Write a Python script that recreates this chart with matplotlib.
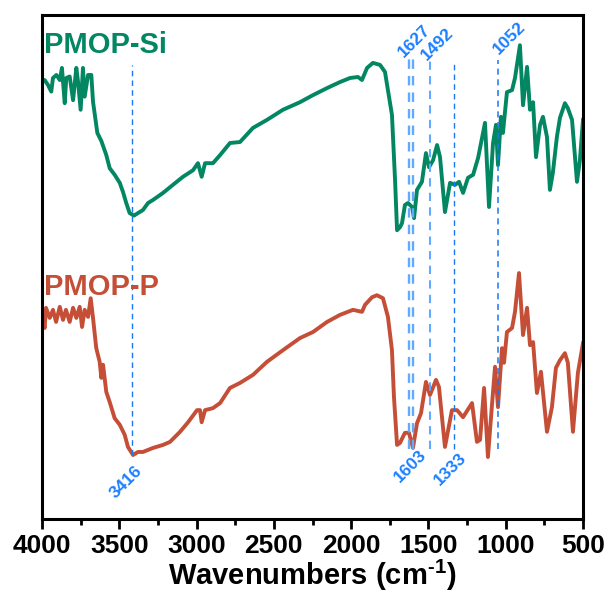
import matplotlib
matplotlib.use('Agg')
import matplotlib.pyplot as plt

plt.rcParams['font.family'] = ['Liberation Sans', 'DejaVu Sans']
plt.rcParams['mathtext.fontset'] = 'custom'
plt.rcParams['mathtext.rm'] = 'Liberation Sans:bold'
plt.rcParams['mathtext.bf'] = 'Liberation Sans:bold'
plt.rcParams['mathtext.default'] = 'bf'

# PMOP-Si (green), offset transmittance in arbitrary units
si_wn = [4000, 3983, 3961, 3940, 3929, 3907, 3885, 3871, 3853, 3843, 3821, 3799, 3778, 3767,
         3750, 3735, 3724, 3702, 3681, 3670, 3642, 3616, 3584, 3562, 3530, 3497, 3476, 3455,
         3433, 3405, 3379, 3347, 3314, 3282, 3217, 3153, 3088, 3023, 2991, 2967, 2945, 2894,
         2848, 2784, 2719, 2635, 2544, 2441, 2331, 2247, 2156, 2072, 2007, 1956, 1930, 1897,
         1859, 1813, 1781, 1762, 1736, 1716, 1703, 1684, 1671, 1652, 1632, 1606, 1593, 1574,
         1542, 1516, 1496, 1470, 1444, 1425, 1393, 1360, 1328, 1302, 1276, 1244, 1211, 1179,
         1134, 1108, 1082, 1063, 1050, 1031, 1018, 992, 959, 940, 908, 888, 862, 843, 823,
         804, 778, 759, 733, 714, 695, 669, 649, 617, 598, 571, 539, 520, 500]
si_t = [86.7, 87.1, 86.1, 84.8, 87.5, 88.1, 87.1, 89.5, 82.5, 87.5, 87.8, 83.1, 89.5, 86.8,
        81.2, 89.5, 83.8, 88.1, 88.1, 82.8, 76.6, 75.0, 72.2, 69.6, 68.3, 66.7, 64.9, 62.7,
        60.7, 60.2, 60.7, 61.3, 62.7, 63.3, 64.7, 66.3, 67.9, 69.2, 70.6, 67.9, 70.6, 70.6,
        72.2, 74.6, 74.8, 77.6, 79.2, 81.2, 82.7, 84.1, 85.5, 86.7, 87.5, 87.7, 87.1, 89.5,
        90.5, 90.1, 88.7, 85.1, 80.2, 67.3, 57.3, 57.9, 58.7, 62.3, 62.7, 61.9, 59.7, 65.3,
        66.9, 72.6, 69.8, 71.2, 74.2, 71.8, 60.9, 66.7, 66.3, 66.9, 64.7, 67.7, 68.3, 71.6,
        78.6, 61.9, 74.6, 78.2, 70.2, 79.8, 76.6, 84.7, 85.1, 87.5, 94.0, 82.1, 89.7, 81.2, 82.7,
        71.8, 78.2, 79.8, 75.8, 65.3, 68.7, 75.8, 79.6, 82.5, 81.5, 79.2, 66.9, 71.2, 79.2]

# PMOP-P (red)
p_wn = [4000, 3983, 3974, 3950, 3929, 3909, 3885, 3864, 3845, 3821, 3799, 3778, 3756, 3741,
        3724, 3702, 3685, 3670, 3649, 3627, 3616, 3605, 3584, 3562, 3530, 3497, 3465, 3444,
        3411, 3379, 3347, 3282, 3217, 3172, 3107, 3055, 2997, 2978, 2967, 2945, 2894, 2848,
        2784, 2719, 2635, 2544, 2441, 2331, 2247, 2156, 2072, 1988, 1930, 1910, 1865, 1833,
        1794, 1762, 1736, 1723, 1703, 1684, 1652, 1626, 1600, 1574, 1548, 1516, 1490, 1451,
        1432, 1393, 1348, 1315, 1276, 1218, 1186, 1166, 1140, 1115, 1089, 1069, 1050, 1024,
        1011, 992, 959, 940, 914, 888, 862, 843, 823, 798, 772, 733, 701, 675, 649, 617, 598,
        565, 533, 500]
p_t = [40.1, 37.9, 41.9, 39.9, 41.5, 39.1, 42.1, 39.5, 41.5, 39.1, 41.9, 39.9, 42.1, 38.1,
       41.5, 40.1, 43.8, 39.9, 33.9, 31.2, 28.0, 30.6, 25.2, 23.2, 20.0, 18.7, 16.7, 14.3,
       12.7, 13.3, 13.3, 14.1, 14.7, 15.3, 17.3, 19.2, 21.6, 21.6, 19.2, 21.6, 22.0, 23.0,
       26.0, 27.0, 28.6, 31.2, 33.5, 35.9, 37.1, 39.1, 40.5, 41.5, 41.1, 42.5, 44.0, 44.4,
       43.8, 40.1, 33.5, 24.2, 14.7, 15.1, 17.1, 17.1, 14.1, 19.0, 21.0, 27.2, 24.6, 27.6,
       26.2, 14.3, 21.6, 21.6, 20.2, 23.0, 15.3, 15.7, 26.0, 12.3, 22.6, 30.2, 22.2, 33.9,
       31.0, 37.1, 37.9, 41.1, 48.8, 36.5, 41.9, 34.5, 35.1, 25.0, 29.2, 17.3, 22.2, 30.0,
       31.5, 32.9, 31.0, 17.3, 29.0, 34.9]

# marked bands
mark_wn = [3416, 1627, 1603, 1492, 1333, 1052]
mark_lbl = ['3416', '1627', '1603', '1492', '1333', '1052']
mark_top = [90.1, 91.7, 91.7, 91.5, 90.7, 91.1]
mark_bot = [12.7, 13.9, 13.9, 13.9, 13.9, 13.9]

green = '#028762'
red = '#C54E37'
blue_dark = '#1a78f0'
blue_light = '#62aaff'

fig = plt.figure(figsize=(6.10, 5.94), dpi=100)
ax = fig.add_axes([42 / 610, 75 / 594, 541 / 610, 504 / 594])

ax.plot(si_wn, si_t, color=green, lw=2.8, solid_joinstyle='round')
ax.plot(p_wn, p_t, color=red, lw=2.8, solid_joinstyle='round')

# dashed guide lines
styles = {'3416': (blue_dark, 1.0), '1627': (blue_light, 1.7), '1603': (blue_light, 1.7),
          '1492': (blue_light, 1.5), '1333': (blue_dark, 1.0), '1052': (blue_dark, 1.1)}
for wn, lbl, top, bot in zip(mark_wn, mark_lbl, mark_top, mark_bot):
    c, lw = styles[lbl]
    ax.plot([wn, wn], [bot, top], color=c, lw=lw, ls=(0, (4.0, 3.0)))

# labels (offsets in pixels from line end)
lbl_off = {'3416': ('bot', -6, -27), '1627': ('top', 6, 16), '1603': ('bot', -2, -17),
           '1492': ('top', 8, 14), '1333': ('bot', -4, -20), '1052': ('top', 12, 22)}
for wn, lbl, top, bot in zip(mark_wn, mark_lbl, mark_top, mark_bot):
    end, dx, dy = lbl_off[lbl]
    y = top if end == 'top' else bot
    ax.annotate(lbl, xy=(wn, y), xytext=(dx, dy), textcoords='offset pixels',
                ha='center', va='center', rotation=45, color='#1a7fff',
                fontsize=12.5, fontweight='bold')

ax.text(0.004, 0.925, 'PMOP-Si', transform=ax.transAxes, color=green,
        fontsize=21, fontweight='bold', ha='left', va='baseline')
ax.text(0.004, 0.444, 'PMOP-P', transform=ax.transAxes, color=red,
        fontsize=21, fontweight='bold', ha='left', va='baseline')

ax.set_xlim(4000, 500)
ax.set_ylim(0, 100)
ax.set_xticks([4000, 3500, 3000, 2500, 2000, 1500, 1000, 500])
ax.set_xticks([3750, 3250, 2750, 2250, 1750, 1250, 750], minor=True)
ax.set_yticks([])
ax.tick_params(axis='x', which='major', direction='out', length=7, width=2, pad=4,
               labelsize=19)
ax.tick_params(axis='x', which='minor', direction='out', length=4, width=2)
for lab in ax.get_xticklabels():
    lab.set_fontweight('bold')
for sp in ax.spines.values():
    sp.set_linewidth(2.2)

ax.set_xlabel(r'Wavenumbers (cm$^{\text{-1}}$)', fontsize=21, fontweight='bold', labelpad=0)

fig.savefig('out.png', dpi=100)
